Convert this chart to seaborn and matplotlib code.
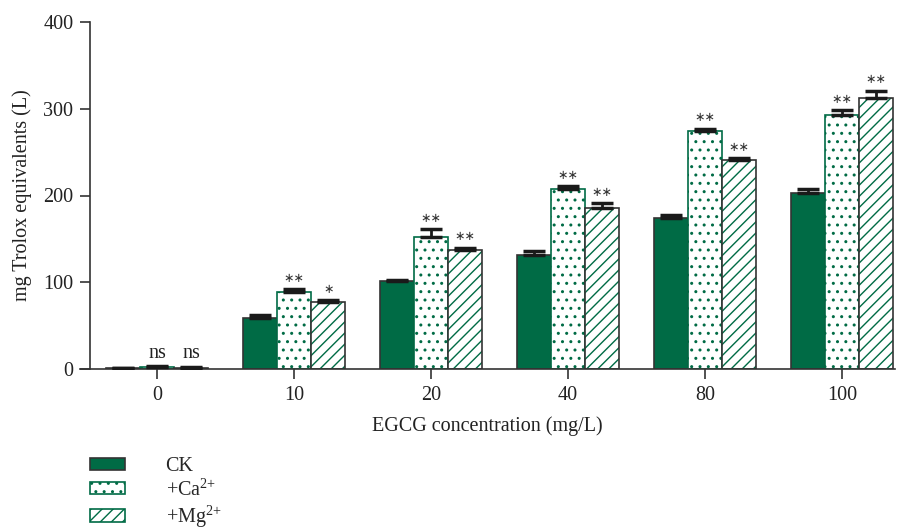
import pandas as pd
import seaborn as sns
import matplotlib.pyplot as plt
import numpy as np
from matplotlib.patches import Patch, Rectangle

# data
concentrations = ['0', '10', '20', '40', '80', '100']
groups = ['CK', '+Ca2+', '+Mg2+']
ck = [1, 59, 101, 131, 174, 203]
ca = [2, 89, 152, 208, 274, 293]
mg = [1.5, 77, 137, 186, 241, 312]
ck_err = [0.5, 3, 2, 5, 3, 5]
ca_err = [1, 3, 9, 3, 3, 5]
mg_err = [1, 2, 3, 5, 2, 9]
ca_marks = ['ns', '**', '**', '**', '**', '**']
mg_marks = ['ns', '*', '**', '**', '**', '**']

green = '#006b45'
dark = '#333333'
fs = 14.5

sns.set_theme(style='white')
plt.rcParams['font.family'] = ['Liberation Serif', 'DejaVu Serif']
plt.rcParams['hatch.linewidth'] = 1.0

df = pd.DataFrame({
    'conc': concentrations * 3,
    'group': np.repeat(groups, len(concentrations)),
    'value': ck + ca + mg,
})

fig = plt.figure(figsize=(9, 5.31), dpi=100)
ax = fig.add_axes([80 / 900, 1 - 369 / 531, 815 / 900, 347 / 531])

sns.barplot(data=df, x='conc', y='value', hue='group', order=concentrations,
            hue_order=groups, palette=[green, 'white', 'white'], saturation=1,
            width=0.75, edgecolor=dark, linewidth=1.2, legend=False, ax=ax)

bars = ax.patches
n = len(concentrations)
errs = [ck_err, ca_err, mg_err]
for gi in range(3):
    for ci in range(n):
        p = bars[gi * n + ci]
        if gi == 1:
            p.set_edgecolor(green)
            p.set_hatch('..')
        elif gi == 2:
            p.set_edgecolor(green)
            p.set_linewidth(0)
            p.set_hatch('///')
            ax.add_patch(Rectangle(p.get_xy(), p.get_width(), p.get_height(),
                                   fill=False, edgecolor=dark, linewidth=1.2, zorder=p.get_zorder() + 0.1))
        xc = p.get_x() + p.get_width() / 2
        h = p.get_height()
        e = errs[gi][ci]
        ax.errorbar(xc, h, yerr=[[0], [e]], fmt='none', ecolor='#1a1a1a',
                    elinewidth=2, capsize=8, capthick=2.5, zorder=5)
        if gi == 1 or gi == 2:
            mark = ca_marks[ci] if gi == 1 else mg_marks[ci]
            if mark == 'ns':
                ax.text(xc, h + e + 4, mark, ha='center', va='bottom', fontsize=fs, color='#222222')
            else:
                ax.text(xc, h + e + 5, mark.replace('*', '\u2217'), ha='center', va='bottom',
                        fontsize=9, color='#333333', family=['DejaVu Sans'])

ax.set_xlim(-0.562, 5.387)
ax.set_ylim(0, 400)
ax.set_yticks([0, 100, 200, 300, 400])
ax.spines['top'].set_visible(False)
ax.spines['right'].set_visible(False)
ax.spines['left'].set_position(('data', -0.489))
for s in ['left', 'bottom']:
    ax.spines[s].set_color(dark)
    ax.spines[s].set_linewidth(1.2)
ax.tick_params(axis='both', direction='out', length=7, width=1.2, color=dark,
               labelsize=fs, labelcolor='#222222', left=True, bottom=True, pad=5)

ax.set_xlabel('EGCG concentration (mg/L)', fontsize=fs, color='#222222', labelpad=8)
ax.set_ylabel('mg Trolox equivalents (L)', fontsize=fs, color='#222222', labelpad=8)

handles = [
    Patch(facecolor=green, edgecolor=dark, linewidth=1.2),
    Patch(facecolor='white', edgecolor=green, hatch='..', linewidth=1.2),
    Patch(facecolor='white', edgecolor=green, hatch='///', linewidth=1.2),
]
labels = ['CK', '+Ca$^{\\mathregular{2{+}}}$', '+Mg$^{\\mathregular{2{+}}}$']
fig.legend(handles, labels, loc='upper left', bbox_to_anchor=(0.1, 0.139),
           frameon=False, fontsize=fs, handlelength=1.75, handleheight=0.55,
           handletextpad=2.0, labelspacing=0.12, borderaxespad=0, borderpad=0)

fig.savefig('out.png', dpi=100)
